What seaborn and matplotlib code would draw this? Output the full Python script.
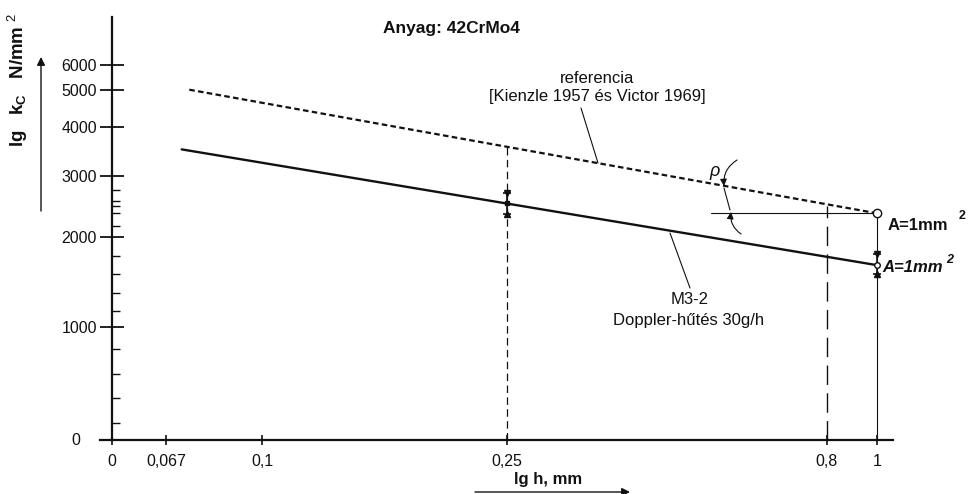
import numpy as np
import pandas as pd
import matplotlib
matplotlib.use("Agg")
import matplotlib.pyplot as plt
import seaborn as sns

# Specific cutting force k_c (N/mm^2) against chip thickness h (mm)
ref_h = [0.075, 1.0]
ref_kc = [5000, 2400]
m32_h = [0.0724, 1.0]
m32_kc = [3540, 1700]
err_h = [0.25, 1.0]
err_kc = [2550, 1700]
err_low = [2390, 1600]
err_high = [2750, 1820]

# guide lines
guide_025_top = 3590
guide_08_top = 2500
guide_1_top = 2400
horiz_h_start = 0.6

x_ticks = [0, 0.067, 0.1, 0.25, 0.8, 1.0]
x_tick_labels = ["0", "0,067", "0,1", "0,25", "0,8", "1"]
y_ticks = [1000, 2000, 3000, 4000, 5000, 6000]
y_tick_labels = ["1000", "2000", "3000", "4000", "5000", "6000"]
y_minor = [200, 400, 600, 800, 1200, 1400, 1600, 1800, 2200, 2400, 2500, 2600, 2800]

# hand-drawn logarithmic grid of the diagram: value -> drawing units (pixels)
X_GRID_VAL = [-0.01, 0, 0.067, 0.1, 0.25, 0.8, 1.0, 1.2]
X_GRID_POS = [100, 112, 166, 262, 507, 827, 877, 893]
Y_GRID_VAL = [0, 200, 400, 600, 800, 1000, 1200, 1400, 1600, 1800, 2000,
              2200, 2400, 2500, 2600, 2800, 3000, 4000, 5000, 6000, 8000]
Y_GRID_TOP = [440, 422.7, 397.7, 373.7, 349, 326.7, 311.3, 293.3, 274.3, 256, 237.3,
              225.7, 213.3, 205.7, 200.7, 190, 176, 126.7, 89.7, 65.3, 17]
Y_GRID_POS = [440 - p for p in Y_GRID_TOP]


def fx(v):
    return np.interp(v, X_GRID_VAL, X_GRID_POS)


def fx_inv(p):
    return np.interp(p, X_GRID_POS, X_GRID_VAL)


def fy(v):
    return np.interp(v, Y_GRID_VAL, Y_GRID_POS)


def fy_inv(p):
    return np.interp(p, Y_GRID_POS, Y_GRID_VAL)


sns.set_theme(style="white")
plt.rcParams["font.family"] = ["Liberation Sans", "DejaVu Sans"]
plt.rcParams["mathtext.fontset"] = "custom"
plt.rcParams["mathtext.rm"] = "Liberation Sans"
plt.rcParams["mathtext.bf"] = "Liberation Sans:bold"
plt.rcParams["mathtext.it"] = "Liberation Sans:italic"

W, H = 968, 494
fig = plt.figure(figsize=(W / 100, H / 100), dpi=100)
ax = fig.add_axes([100 / W, 1 - 440 / H, (893 - 100) / W, (440 - 17) / H])
ax.set_xscale("function", functions=(fx, fx_inv))
ax.set_yscale("function", functions=(fy, fy_inv))

ink = "#111111"

# reference line (Kienzle / Victor) and measured line M3-2
ref_df = pd.DataFrame({"h": ref_h, "kc": ref_kc})
m32_df = pd.DataFrame({"h": m32_h, "kc": m32_kc})
sns.lineplot(data=ref_df, x="h", y="kc", ax=ax, color=ink, lw=1.6,
             linestyle=(0, (2.5, 1.5)), legend=False)
sns.lineplot(data=m32_df, x="h", y="kc", ax=ax, color=ink, lw=1.7, legend=False)

# open circle at the reference point A = 1 mm^2
ax.plot([ref_h[-1]], [ref_kc[-1]], marker="o", ms=6, mfc="white", mec=ink, mew=1, zorder=5)

# scatter bands of the measured values
lo = np.array(err_kc) - np.array(err_low)
hi = np.array(err_high) - np.array(err_kc)
ax.errorbar(err_h, err_kc, yerr=[lo, hi], fmt="none", ecolor=ink, elinewidth=1.2,
            capsize=3, capthick=1.2, zorder=4)
ax.plot(err_h, err_high, ls="none", marker="v", ms=4, color=ink, zorder=4)
ax.plot(err_h, err_low, ls="none", marker="^", ms=4, color=ink, zorder=4)
ax.plot(err_h[:1], err_kc[:1], ls="none", marker="s", ms=3, color=ink, zorder=4)
ax.plot(err_h[1:], err_kc[1:], ls="none", marker="o", ms=4, mfc="white", mec=ink, zorder=4)

# vertical and horizontal guide lines
ax.plot([0.25, 0.25], [0, guide_025_top], color=ink, lw=0.9, ls=(0, (6, 3.5)))
ax.plot([0.8, 0.8], [0, guide_08_top], color=ink, lw=1.0, ls=(0, (14, 6)))
ax.plot([1.0, 1.0], [0, guide_1_top], color=ink, lw=0.8)
ax.plot([horiz_h_start, 1.0], [ref_kc[-1], ref_kc[-1]], color=ink, lw=0.8)

ax.set_xlim(X_GRID_VAL[0], X_GRID_VAL[-1])
ax.set_ylim(Y_GRID_VAL[0], Y_GRID_VAL[-1])
ax.set_xlabel("")
ax.set_ylabel("")

for s in ("top", "right"):
    ax.spines[s].set_visible(False)
ax.spines["left"].set_position(("data", 0))
for s in ("left", "bottom"):
    ax.spines[s].set_linewidth(1.6)
    ax.spines[s].set_color(ink)

ax.set_xticks(x_ticks, x_tick_labels)
ax.set_xticks([], minor=True)
ax.set_yticks(y_ticks, y_tick_labels)
ax.set_yticks(y_minor, minor=True)
ax.tick_params(axis="x", which="major", direction="inout", length=7.2, width=1.2,
               pad=6.4, labelsize=11.5, colors=ink, bottom=True)
ax.tick_params(axis="y", which="major", direction="inout", length=17.3, width=1.3,
               pad=2.2, labelsize=11.5, colors=ink, left=True)
ax.tick_params(axis="y", which="minor", direction="in", length=5.5, width=1.0,
               color=ink, left=True)
ax.grid(False)


def T(x, y, s, **kw):
    kw.setdefault("color", ink)
    kw.setdefault("ha", "center")
    kw.setdefault("va", "center")
    fig.text(x / W, 1 - y / H, s, **kw)


def P(x, y):
    return (x, H - y)


T(76, 440, "0", fontsize=11.5)
T(451, 28, "Anyag: 42CrMo4", fontsize=12.5, fontweight="bold")
T(597, 78, "referencia", fontsize=12)
T(597, 96, "[Kienzle 1957 és Victor 1969]", fontsize=12)
T(690, 300, "M3-2", fontsize=12)
T(689, 320, "Doppler-hűtés 30g/h", fontsize=12)
T(888, 225, "A=1mm", fontsize=12, fontweight="bold", ha="left")
T(962, 216, "2", fontsize=9, fontweight="bold")
T(882, 268, "A=1mm", fontsize=12, fontweight="bold", fontstyle="italic", ha="left")
T(950, 260, "2", fontsize=9, fontweight="bold", fontstyle="italic")
T(715, 171, "ρ", fontsize=13, fontstyle="italic")
T(548, 479, "lg h, mm", fontsize=12, fontweight="bold")
T(18, 80, r"lg   k$_\mathbf{C}$   N/mm $^{2}$", fontsize=13.5, fontweight="bold", rotation=90)

line_kw = dict(xycoords="figure pixels", textcoords="figure pixels")
# leader lines
ax.annotate("", xy=P(598, 163), xytext=P(581, 108),
            arrowprops=dict(arrowstyle="-", color=ink, lw=0.8, shrinkA=0, shrinkB=0), **line_kw)
ax.annotate("", xy=P(670, 233), xytext=P(690, 288),
            arrowprops=dict(arrowstyle="-", color=ink, lw=0.8, shrinkA=0, shrinkB=0), **line_kw)
# angle rho
ax.annotate("", xy=P(724, 186), xytext=P(737, 160),
            arrowprops=dict(arrowstyle="-|>", color=ink, lw=0.8, mutation_scale=10,
                            connectionstyle="arc3,rad=0.3", shrinkA=0, shrinkB=0), **line_kw)
ax.annotate("", xy=P(730, 210), xytext=P(724, 188),
            arrowprops=dict(arrowstyle="-", color=ink, lw=0.8, shrinkA=0, shrinkB=0), **line_kw)
ax.annotate("", xy=P(731, 212), xytext=P(741, 234),
            arrowprops=dict(arrowstyle="-|>", color=ink, lw=0.8, mutation_scale=10,
                            connectionstyle="arc3,rad=-0.3", shrinkA=0, shrinkB=0), **line_kw)
# axis direction arrows
ax.annotate("", xy=P(41, 57), xytext=P(41, 211),
            arrowprops=dict(arrowstyle="-|>", color=ink, lw=1.0, mutation_scale=12,
                            shrinkA=0, shrinkB=0), **line_kw)
ax.annotate("", xy=P(630, 492), xytext=P(475, 492),
            arrowprops=dict(arrowstyle="-|>", color=ink, lw=1.0, mutation_scale=12,
                            shrinkA=0, shrinkB=0), **line_kw)

fig.savefig("out.png", dpi=100, facecolor="white")
